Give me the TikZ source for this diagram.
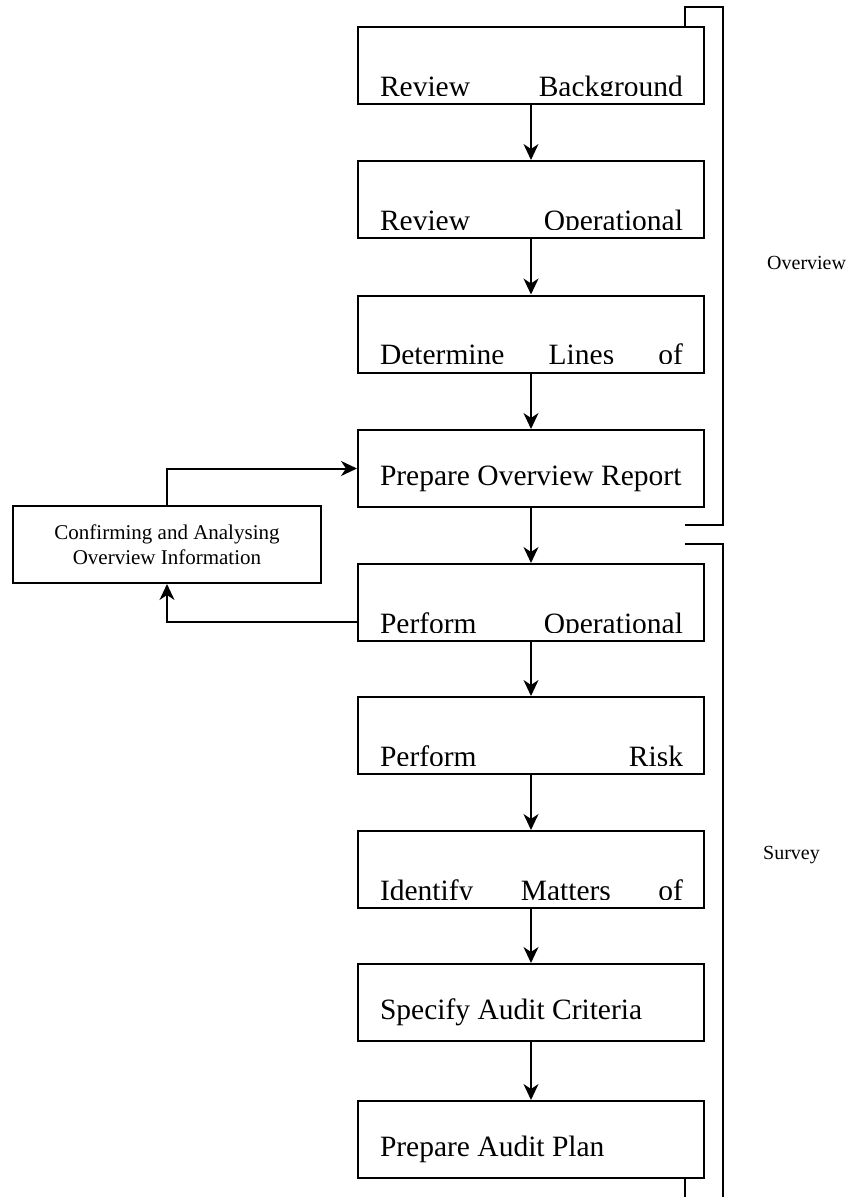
\documentclass[tikz,border=0pt]{standalone}
\usepackage{fontspec}
\setmainfont{Liberation Serif}
\usetikzlibrary{arrows.meta}

% step boxes: first line of a justified caption, clipped just above the bottom edge
\tikzset{
  steptext/.style={anchor=base west, inner sep=0pt, draw=none,
    minimum width=0pt, minimum height=0pt, font=\fontsize{29.5}{34}\selectfont},
  stepbox/.style={draw, rectangle, line width=2pt, inner sep=0pt,
    minimum width=346pt, minimum height=77pt},
  clipped/.style={path picture={
    \clip ([yshift=9pt]path picture bounding box.south west)
      rectangle (path picture bounding box.north east);
    \node[steptext]
      at ([xshift=21pt,yshift=-69pt]path picture bounding box.north west)
      {\makebox[303pt][l]{#1}};}},
  plain/.style={path picture={
    \node[steptext]
      at ([xshift=21pt,yshift=-55pt]path picture bounding box.north west) {#1};}},
  flow/.style={line width=2pt, -{Stealth[length=16pt,width=15pt,inset=5pt]}},
  bracket/.style={line width=2pt},
  phase/.style={anchor=base west, inner sep=0pt, font=\fontsize{20}{24}\selectfont}
}

\begin{document}
\begin{tikzpicture}[x=1pt, y=-1pt]
\useasboundingbox (0,0) rectangle (849,1197);

% main column of steps
\node[stepbox, clipped={Review\hfill Background}]          (b1) at (531,  65.5) {};
\node[stepbox, clipped={Review\hfill Operational}]         (b2) at (531, 199.5) {};
\node[stepbox, clipped={Determine\hfill Lines\hfill of}]   (b3) at (531, 334.0) {};
\node[stepbox, plain={Prepare Overview Report}]            (b4) at (531, 468.5) {};
\node[stepbox, clipped={Perform\hfill Operational}]        (b5) at (531, 602.5) {};
\node[stepbox, clipped={Perform\hfill Risk}]               (b6) at (531, 735.5) {};
\node[stepbox, clipped={Identify\hfill Matters\hfill of}]  (b7) at (531, 869.5) {};
\node[stepbox, plain={Specify Audit Criteria}]             (b8) at (531,1002.5) {};
\node[stepbox, plain={Prepare Audit Plan}]                 (b9) at (531,1139.5) {};

% side step
\node[draw, rectangle, line width=2pt, minimum width=308pt, minimum height=77pt,
      align=center, font=\fontsize{21}{25}\selectfont]     (conf) at (167, 544.5)
  {Confirming and Analysing\\Overview Information};

% flow between steps
\foreach \a/\b in {b1/b2, b2/b3, b3/b4, b4/b5, b5/b6, b6/b7, b7/b8, b8/b9}
  \draw[flow] (\a) -- (\b);

% feedback loop through the side step
\draw[flow] (conf.north) |- (b4.west);
\draw[flow] ([yshift=-19.5pt]b5.west) -| (conf.south);

% phase brackets
\coordinate (ovTop) at (685, 7);
\coordinate (ovBot) at (685, 525);
\draw[bracket] (b1.north east -| ovTop) -- (ovTop) -- (723, 7) -- (723, 525) -- (ovBot);
\node[phase] (ovLabel) at (767, 269) {Overview};

\coordinate (svTop) at (685, 544);
\draw[bracket] (svTop) -- (723, 544) -- (723, 1197);
\draw[bracket] (b9.south east -| svTop) -- (685, 1197);
\node[phase] (svLabel) at (763, 859) {Survey};
\end{tikzpicture}
\end{document}
